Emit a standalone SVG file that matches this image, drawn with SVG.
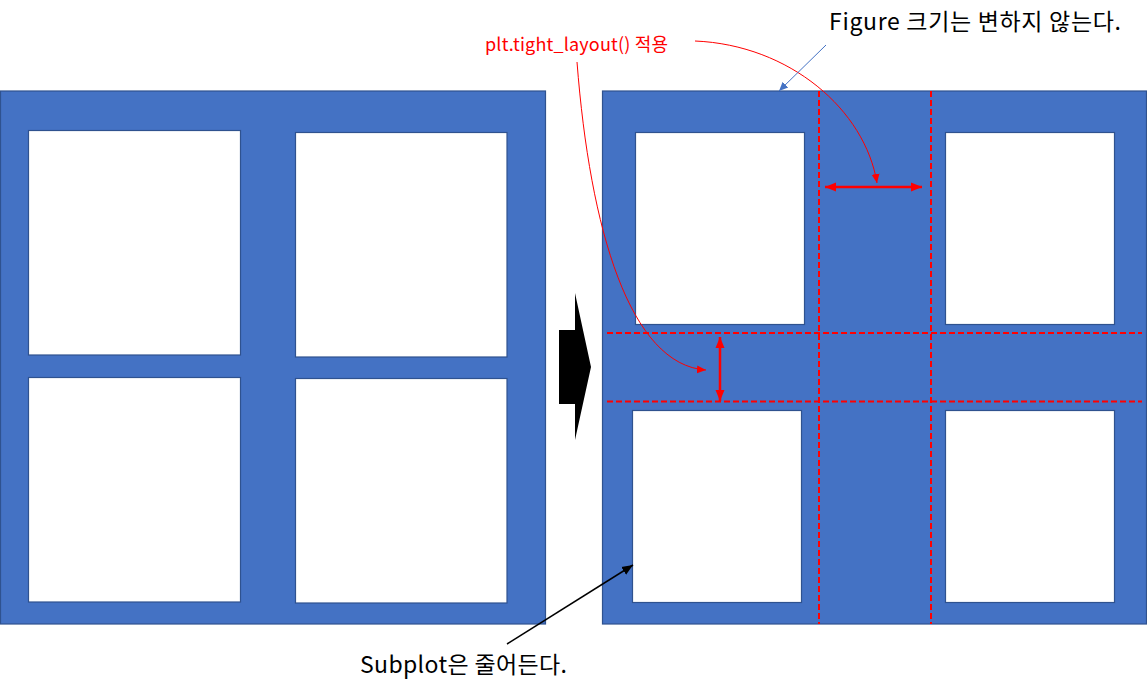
<svg xmlns="http://www.w3.org/2000/svg" width="1147" height="694" viewBox="0 0 1147 694">
<style>
.panel{fill:#4472C4;stroke:#2F528F;stroke-width:1.2}
.box{fill:#FFFFFF;stroke:#2F528F;stroke-width:1.2}
.dash{stroke:#FF0000;stroke-width:2;stroke-dasharray:6,3;fill:none}
.dbl{stroke:#FF0000;stroke-width:2.5;fill:none}
.thin{stroke:#FF0000;stroke-width:1;fill:none}
.txt{font-family:"Noto Sans CJK KR","Noto Sans",sans-serif}
</style>
<defs>
<marker id="redHead" markerUnits="userSpaceOnUse" markerWidth="12" markerHeight="12" viewBox="0 0 12 12" refX="11" refY="6" orient="auto-start-reverse">
<path d="M0,1.5 L11,6 L0,10.5 Z" fill="#FF0000"/>
</marker>
<marker id="redThinHead" markerUnits="userSpaceOnUse" markerWidth="10" markerHeight="10" viewBox="0 0 10 10" refX="9" refY="5" orient="auto">
<path d="M0,1 L9,5 L0,9 Z" fill="#FF0000"/>
</marker>
<marker id="blueHead" markerUnits="userSpaceOnUse" markerWidth="10" markerHeight="10" viewBox="0 0 10 10" refX="9" refY="5" orient="auto">
<path d="M0,1 L9,5 L0,9 Z" fill="#4472C4"/>
</marker>
<marker id="blackHead" markerUnits="userSpaceOnUse" markerWidth="12" markerHeight="12" viewBox="0 0 12 12" refX="11" refY="6" orient="auto">
<path d="M0,1.5 L11,6 L0,10.5 Z" fill="#000000"/>
</marker>
</defs>

<g id="left-figure">
<rect class="panel" x="0.5" y="91" width="545" height="533"/>
<rect class="box" x="28.5" y="130.5" width="212" height="224.5"/>
<rect class="box" x="295.5" y="132.5" width="211.5" height="224.5"/>
<rect class="box" x="28.5" y="377.5" width="212" height="224.5"/>
<rect class="box" x="295.5" y="378.5" width="211.5" height="224.5"/>
</g>

<g id="big-arrow">
<polygon points="559,330 575,330 575,293 591,367 575,440 575,404 559,404" fill="#000000"/>
</g>

<g id="right-figure">
<rect class="panel" x="602.5" y="91" width="544" height="533"/>
<rect class="box" x="635.5" y="132.5" width="169" height="192"/>
<rect class="box" x="945.5" y="132.5" width="169" height="192"/>
<rect class="box" x="632.5" y="410.5" width="169" height="192"/>
<rect class="box" x="945.5" y="410.5" width="169" height="192"/>
</g>

<g id="guides">
<line class="dash" x1="819" y1="91" x2="819" y2="624"/>
<line class="dash" x1="931" y1="91" x2="931" y2="624"/>
<line class="dash" x1="607" y1="333" x2="1142" y2="333"/>
<line class="dash" x1="607" y1="401.5" x2="1142" y2="401.5"/>
</g>

<g id="connectors">
<line class="dbl" x1="825" y1="187" x2="922" y2="187" marker-start="url(#redHead)" marker-end="url(#redHead)"/>
<line class="dbl" x1="720" y1="337" x2="720" y2="401" marker-start="url(#redHead)" marker-end="url(#redHead)"/>
<path class="thin" d="M577,62 C590,230 630,365 706,370" marker-end="url(#redThinHead)"/>
<path class="thin" d="M695,41 C790,45 865,110 877,183" marker-end="url(#redThinHead)"/>
<line x1="826" y1="45" x2="779" y2="91" stroke="#4472C4" stroke-width="1" marker-end="url(#blueHead)"/>
<line x1="507" y1="644" x2="633" y2="565" stroke="#000000" stroke-width="1.5" marker-end="url(#blackHead)"/>
</g>

<g id="labels">
<text class="txt" x="485" y="51" font-size="18" fill="#FF0000" textLength="183" lengthAdjust="spacing">plt.tight_layout() 적용</text>
<text class="txt" x="829" y="30" font-size="23" fill="#000000" textLength="292" lengthAdjust="spacing">Figure 크기는 변하지 않는다.</text>
<text class="txt" x="360" y="673" font-size="23" fill="#000000" textLength="207" lengthAdjust="spacing">Subplot은 줄어든다.</text>
</g>
</svg>
